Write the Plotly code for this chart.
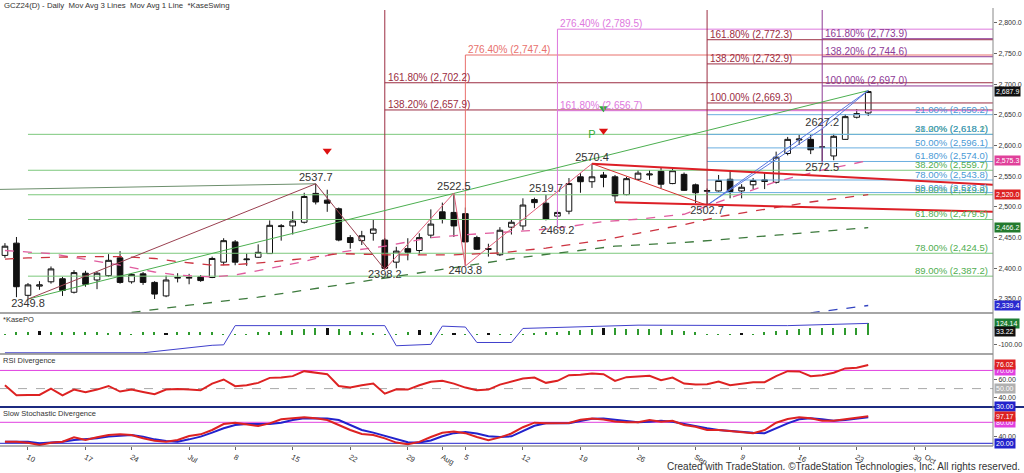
import plotly.graph_objects as go

# ---------------- data ----------------
idx = list(range(-2, 74))
o = [2421, 2441, 2356, 2371, 2378, 2383, 2361, 2392, 2381, 2388,
     2417, 2378, 2391, 2377, 2355, 2384, 2384, 2386, 2385, 2410,
     2443, 2414, 2418, 2424, 2468, 2469, 2475, 2522, 2511, 2497,
     2450, 2445, 2457, 2446, 2410, 2432, 2429, 2454, 2492, 2491,
     2489, 2450, 2432, 2422, 2467, 2469, 2512, 2506, 2485, 2493,
     2549, 2541, 2552, 2549, 2520, 2545, 2552, 2558, 2538, 2553,
     2536, 2525.5, 2526, 2545, 2526, 2536, 2544, 2540, 2587, 2609,
     2610, 2597, 2583, 2610, 2646, 2653]
h = [2441, 2451, 2376, 2379, 2403, 2386, 2397, 2396, 2394, 2423,
     2428, 2392, 2394, 2379, 2388, 2392, 2391, 2389, 2419, 2449,
     2446, 2424, 2439, 2478, 2472, 2493, 2523, 2537.7, 2528, 2499,
     2454, 2461, 2480, 2449, 2435, 2449, 2457, 2496, 2507, 2522.5,
     2499, 2453, 2440, 2467, 2479, 2514, 2515, 2519.7, 2495, 2547,
     2555, 2570.4, 2557, 2552, 2549, 2560, 2560, 2565, 2563, 2556,
     2538, 2530, 2552, 2560, 2537, 2547, 2556, 2590, 2614, 2618,
     2617, 2627.2, 2619, 2651, 2659, 2689.5]
l = [2417, 2353, 2349.8, 2365, 2375, 2355, 2359, 2370, 2366, 2386,
     2375, 2375, 2373, 2350, 2353, 2377, 2374, 2378, 2384, 2405,
     2405, 2404, 2417, 2424, 2445, 2455, 2473, 2504, 2492, 2444,
     2432, 2438, 2445, 2398.2, 2400, 2413, 2422, 2449, 2473, 2451,
     2403.8, 2430, 2419, 2420, 2455, 2462, 2498, 2478, 2469.2, 2488,
     2523, 2531, 2532, 2508, 2519, 2544, 2544, 2530, 2537, 2526,
     2506, 2502.7, 2525, 2514, 2514, 2529, 2529, 2538, 2584, 2601,
     2586, 2572.5, 2576, 2609, 2644, 2648]
c = [2436, 2370, 2373, 2373, 2399, 2364, 2393, 2374, 2392, 2413,
     2377, 2390, 2377, 2358, 2381, 2385, 2385, 2380, 2416, 2445,
     2410, 2415, 2426, 2470, 2469, 2477, 2517, 2508, 2506, 2446,
     2442, 2453, 2464, 2400, 2428, 2426, 2450, 2472, 2480, 2469,
     2443, 2431, 2431, 2462, 2475, 2503, 2507, 2480, 2491, 2538,
     2541, 2549, 2548, 2518, 2546, 2555, 2553.5, 2537, 2559, 2527,
     2523, 2526.5, 2543, 2525, 2532, 2543, 2541.5, 2581, 2610, 2610.5,
     2593, 2597.5, 2615, 2647, 2652, 2687.9]

tick_pos = [0, 5, 9, 14, 18, 23, 28, 33, 36, 38, 43, 48, 53, 58, 62, 67, 72, 77, 78]
tick_text = ["10", "17", "24", "Jul", "8", "15", "22", "29", "Aug", "5", "12", "19",
             "26", "Sep", "9", "16", "23", "30", "Oct"]

# fib retracement (green, from the 2349.8 low) and (blue, from the 2502.7 low)
green_anchor = 0
green_levels = [2618.2, 2559.7, 2519.8, 2479.5, 2424.5, 2387.2]
green_labels = ["21.00% (2,618.2)", "38.20% (2,559.7)", "50.00% (2,519.8)",
                "61.80% (2,479.5)", "78.00% (2,424.5)", "89.00% (2,387.2)"]
blue_anchor = 59
blue_levels = [2650.2, 2618.1, 2596.1, 2574.0, 2543.8, 2523.3]
blue_labels = ["21.00% (2,650.2)", "38.20% (2,618.1)", "50.00% (2,596.1)",
               "61.80% (2,574.0)", "78.00% (2,543.8)", "89.00% (2,523.3)"]

# fib extension sets: anchor bar, anchor low, levels, labels
ext1_anchor, ext1_low = 31, 2398.2
ext1_levels = [2702.2, 2657.9]
ext1_labels = ["161.80% (2,702.2)", "138.20% (2,657.9)"]
ext2_anchor, ext2_low = 38, 2403.8
ext2_levels = [2747.4]
ext2_labels = ["276.40% (2,747.4)"]
ext3_anchor, ext3_low = 46, 2469.2
ext3_levels = [2789.5, 2656.7]
ext3_labels = ["276.40% (2,789.5)", "161.80% (2,656.7)"]
ext4_anchor, ext4_low = 59, 2502.7
ext4_levels = [2772.3, 2732.9, 2669.3]
ext4_labels = ["161.80% (2,772.3)", "138.20% (2,732.9)", "100.00% (2,669.3)"]
ext5_anchor, ext5_low = 69, 2572.5
ext5_levels = [2773.9, 2744.6, 2697.0]
ext5_labels = ["161.80% (2,773.9)", "138.20% (2,744.6)", "100.00% (2,697.0)"]

# moving averages (read at selected bars)
pink_ma_i = [-2, 2, 8, 11, 13, 16, 18, 21, 24, 27, 31, 35, 39, 44, 47, 50, 53, 57, 61, 65, 69, 73]
pink_ma_v = [2429, 2424, 2405, 2394, 2389, 2386, 2389, 2400, 2411, 2426, 2436, 2450, 2456,
             2462, 2468, 2476, 2480, 2488, 2514, 2541, 2560, 2575.3]
red_ma_i = [-2, 0, 5, 8, 11, 13, 16, 18, 21, 24, 27, 31, 37, 41, 45, 50, 53, 57, 60, 64, 68, 73]
red_ma_v = [2415, 2417, 2419, 2419, 2416, 2411, 2405, 2406, 2410, 2416, 2424, 2422, 2422,
            2425, 2433, 2446, 2457, 2471, 2484, 2496, 2508, 2520.0]
green_ma_i = [9, 14, 20, 27, 35, 43, 51, 57, 65, 73]
green_ma_v = [2328, 2340, 2353, 2373, 2395, 2418, 2436, 2442, 2454, 2466.2]
blue_ma_i = [68, 73]
blue_ma_v = [2327.5, 2339.4]

# swings
swing_i = [0, 25, 31, 37, 38, 45, 46, 49, 59, 69, 69]
swing_v = [2349.8, 2537.7, 2398.2, 2522.5, 2403.8, 2519.7, 2469.2, 2570.4, 2502.7, 2627.2, 2572.5]
swing_pos = ["bottom center", "top center", "bottom center", "top center", "bottom center",
             "top center", "bottom center", "top center", "bottom center", "top center",
             "bottom center"]
zz1_i, zz1_v = [0, 25, 31], [2349.8, 2537.7, 2398.2]
zz2_i, zz2_v = [31, 37, 38, 49], [2398.2, 2522.5, 2403.8, 2570.4]
zz3_i, zz3_v = [49, 59], [2570.4, 2502.7]
leg1_i, leg1_v = [59, 73], [2502.7, 2689.5]
leg2_i, leg2_v = [59, 69, 73], [2502.7, 2627.2, 2689.5]
tri_up_i, tri_up_v = [49, 85], [2570.4, 2534.8]
tri_lo_i, tri_lo_v = [51, 85], [2507.4, 2491.6]
trend_g_i, trend_g_v = [0, 73], [2349.8, 2689.5]
trend_gg_i, trend_gg_v = [-3, 25], [2528.3, 2537.7]

sig_red_i, sig_red_v = [26, 50], [2591.5, 2624.0]
sig_green_i, sig_green_v = [50], [2660.6]
sig_p_i, sig_p_v = [49], [2617.0]

# KasePO
kase_hist = [10, 35, 35, 45, 35, 35, 35, 35, 35, 25,
             30, 10, 30, 30, 15, 30, 30, 30, 30, 10,
             10, 10, 30, 35, 45, 55, 60, 70, 80, 65,
             45, 30, 15, 10, 10, 35, 50, 30, 10, 15,
             10, 10, 15, 10, 10, 10, 20, 30, 30, 40,
             50, 60, 80, 70, 65, 60, 60, 60, 55, 45,
             30, 10, 10, 10, 15, 10, 30, 40, 50, 65,
             70, 70, 70, 70, 75, 130]
kase_black = [1, 12, 26, 34, 37, 40, 50, 62]
kase_line_i = [-2, 10, 16, 17, 18, 31, 32, 35, 36, 38, 39, 42, 43, 53, 66, 73]
kase_line_v = [-190, -190, -110, -105, 100, 100, -115, -100, 95, 85, -80, -80, 70, 105, 100, 124.14]

rsi = [53.7, 42.6, 43, 43, 50, 42.6, 48.9, 45.9, 48.9, 52.9,
       46.7, 48.9, 46.3, 43.7, 48.9, 49.6, 48.9, 48.1, 55.5, 60,
       52.6, 53.7, 56.3, 61.8, 62.2, 63.7, 69.2, 67.8, 65.9, 52.9,
       51.1, 53.7, 55.5, 44.4, 49.3, 48.9, 53.7, 57.4, 58.5, 55.5,
       51.1, 48.1, 48.9, 54.4, 57.4, 61.1, 62.2, 56.3, 58.5, 64.8,
       65.2, 66.7, 65.9, 58.5, 62.6, 63.7, 64.1, 59.2, 62.2, 55.5,
       54.4, 54.8, 57.8, 53.7, 55.5, 57, 57, 63.7, 69.2, 68.9,
       63.7, 64.8, 67.4, 72.2, 73, 76.02]
stoch_k = [24.6, 24.6, 21.7, 15, 21.7, 24.6, 37, 29.4, 37, 43.7,
           45.6, 43.7, 34.3, 27.6, 24.6, 29.4, 40.9, 45.6, 58, 75.1,
           78.9, 75.1, 69.4, 77, 88.6, 91.4, 94.3, 91.4, 86.6, 72.3,
           58, 46.6, 43.7, 34, 22, 17, 24, 38, 50, 54,
           49, 38, 29, 37, 48, 66, 79, 77, 77, 78,
           87, 91, 88, 82, 80, 80, 86.6, 81.7, 84.6, 72.3,
           67.4, 58, 58, 55.1, 50.3, 48.6, 58, 78.9, 89.4, 94.3,
           91.4, 84.6, 84.6, 89.4, 94.3, 97.17]
stoch_d = [24.6, 24.6, 24.6, 20, 21.7, 24.6, 29.4, 31.3, 34.3, 39.1,
           42, 43.7, 39.1, 31.3, 26.6, 24.6, 31.3, 39.1, 50.5, 62.8,
           72.3, 75.1, 75.1, 75.1, 78.9, 86.6, 91.4, 91.4, 90.5, 86.6,
           72.3, 58, 50.5, 40.9, 31, 23, 22, 28, 40, 49,
           52, 48, 40, 38, 40, 55, 70, 77, 77, 77,
           84, 90, 91, 88, 83, 80, 81.7, 84.6, 81.7, 75.1,
           69.4, 62.9, 58, 55.1, 53.1, 50.3, 48.6, 62.9, 77, 88.6,
           91.4, 88.6, 84.6, 86.6, 91.4, 94.3]

# ---------------- layout constants ----------------
W, H = 1024, 473
FONT = "Liberation Sans, Arial, sans-serif"
X_MIN, X_MAX = -2.43, 83.84
P_MIN, P_MAX = 2327.2, 2820.7
XR = 993 / W
NB = "\u00a0"


def fy(px):
    return 1 - px / H


DARKRED = "#9b2d42"
SALMON = "#e8706c"
PINK = "#de78de"
PURPLE = "#8e3a96"
GREEN_LINE = "#7cc87c"
GREEN_TXT = "#4fae4f"
BLUE_LINE = "#6aaee0"
BLUE_TXT = "#4a9ad6"

fig = go.Figure()


def line(xs, ys, color, width=1, dash=None, axis="y"):
    fig.add_trace(go.Scatter(x=xs, y=ys, mode="lines", yaxis=axis,
                             line=dict(color=color, width=width, dash=dash),
                             hoverinfo="skip", showlegend=False))


# horizontal retracements
for lv, lab in zip(green_levels, green_labels):
    line([green_anchor, X_MAX], [lv, lv], GREEN_LINE)
    fig.add_annotation(x=X_MAX, y=lv, xref="x", yref="y", text=lab, showarrow=False,
                       xanchor="right", yanchor="bottom", xshift=-3, yshift=-2,
                       font=dict(family=FONT, size=9.5, color=GREEN_TXT))
for lv, lab in zip(blue_levels, blue_labels):
    line([blue_anchor, X_MAX], [lv, lv], BLUE_LINE)
    fig.add_annotation(x=X_MAX, y=lv, xref="x", yref="y", text=lab, showarrow=False,
                       xanchor="right", yanchor="bottom", xshift=-3, yshift=-2,
                       font=dict(family=FONT, size=9.5, color=BLUE_TXT))

# extensions with vertical anchors
ext_sets = [
    (ext1_anchor, ext1_low, P_MAX, ext1_levels, ext1_labels, DARKRED),
    (ext2_anchor, ext2_low, max(ext2_levels), ext2_levels, ext2_labels, SALMON),
    (ext3_anchor, ext3_low, max(ext3_levels), ext3_levels, ext3_labels, PINK),
    (ext4_anchor, ext4_low, P_MAX, ext4_levels, ext4_labels, DARKRED),
    (ext5_anchor, ext5_low, P_MAX, ext5_levels, ext5_labels, PURPLE),
]
for anc, low, top, levels, labels, col in ext_sets:
    line([anc, anc], [low, top], col)
    for lv, lab in zip(levels, labels):
        line([anc, X_MAX], [lv, lv], col)
        fig.add_annotation(x=anc, y=lv, xref="x", yref="y", text=lab, showarrow=False,
                           xanchor="left", yanchor="bottom", xshift=1, yshift=-2,
                           font=dict(family=FONT, size=10, color=col))

# moving averages
line(pink_ma_i, pink_ma_v, "#e05c9e", 1.3, "dash")
line(red_ma_i, red_ma_v, "#cc3340", 1.3, "dash")
line(green_ma_i, green_ma_v, "#3d7a3d", 1.3, "dash")
line(blue_ma_i, blue_ma_v, "#3344c0", 1.3, "dash")

# trend lines behind candles
line(trend_gg_i, trend_gg_v, "#6d8f6d", 1)
line(trend_g_i, trend_g_v, "#4caf50", 1)

# candles
fig.add_trace(go.Candlestick(
    x=idx, open=o, high=h, low=l, close=c, yaxis="y",
    increasing=dict(line=dict(color="#111111", width=1), fillcolor="white"),
    decreasing=dict(line=dict(color="#111111", width=1), fillcolor="#111111"),
    whiskerwidth=0, hoverinfo="skip", showlegend=False))

# swing zigzags and triangle lines
line(zz1_i, zz1_v, "#9a4050", 1)
line(zz2_i, zz2_v, "#e0607a", 1)
line(zz3_i, zz3_v, "#d43030", 1)
line(leg1_i, leg1_v, "#5a78e0", 1)
line(leg2_i, leg2_v, "#5a78e0", 1)
line(tri_up_i, tri_up_v, "#dd1f26", 2)
line(tri_lo_i, tri_lo_v, "#dd1f26", 2)

# swing labels
fig.add_trace(go.Scatter(x=swing_i, y=swing_v, mode="text",
                         text=[f"{v:.1f}" for v in swing_v], textposition=swing_pos,
                         textfont=dict(family=FONT, size=11, color="#333333"),
                         hoverinfo="skip", showlegend=False))

# signals
fig.add_trace(go.Scatter(x=sig_red_i, y=sig_red_v, mode="markers",
                         marker=dict(symbol="triangle-down", size=8, color="#dd1111"),
                         hoverinfo="skip", showlegend=False))
fig.add_trace(go.Scatter(x=sig_green_i, y=sig_green_v, mode="markers",
                         marker=dict(symbol="triangle-down", size=8, color="#33aa33"),
                         hoverinfo="skip", showlegend=False))
fig.add_trace(go.Scatter(x=sig_p_i, y=sig_p_v, mode="text", text=["P"],
                         textfont=dict(family=FONT, size=11, color="#33aa33"),
                         hoverinfo="skip", showlegend=False))

# KasePO panel
kcolors = ["#111111" if i in kase_black else "#2e9a2e" for i in idx]
kwidth = [0.3 if i in kase_black else 0.13 for i in idx]
fig.add_trace(go.Bar(x=idx, y=kase_hist, yaxis="y2", marker=dict(color=kcolors, line=dict(width=0)),
                     width=kwidth, hoverinfo="skip", showlegend=False))
line(kase_line_i, kase_line_v, "#4040cc", 1, axis="y2")

# RSI panel
line(idx, rsi, "#dd2222", 2, axis="y3")
# Stochastic panel
line(idx, stoch_d, "#2222cc", 2, axis="y4")
line(idx, stoch_k, "#dd2222", 2, axis="y4")

# reference lines in lower panels
ref_lines = [("y3", 70, "#e040e0", 1, "solid"), ("y3", 50, "#aaaaaa", 1, "dash"),
             ("y4", 80, "#e040e0", 1, "solid"), ("y4", 20, "#2222cc", 1, "solid")]
for ax, v, col, wd, ds in ref_lines:
    fig.add_shape(type="line", xref="paper", yref=ax, x0=0, x1=XR, y0=v, y1=v,
                  line=dict(color=col, width=wd, dash=ds), layer="below")

# separators
for ypx, col, wd, x1 in [(313, "#888888", 1.5, XR), (354, "#888888", 1.5, XR),
                          (407, "#1c2a80", 2, 1.0), (446, "#666666", 1, XR)]:
    fig.add_shape(type="line", xref="paper", yref="paper", x0=0, x1=x1,
                  y0=fy(ypx), y1=fy(ypx), line=dict(color=col, width=wd))
fig.add_shape(type="line", xref="paper", yref="paper", x0=XR, x1=XR, y0=fy(446), y1=fy(8),
              line=dict(color="#888888", width=1))

# right-hand value boxes
boxes = [
    ("y", 2687.9, "2,687.9", "#111111"), ("y", 2575.3, "2,575.3", "#e0409a"),
    ("y", 2520.0, "2,520.0", "#dd2222"), ("y", 2466.2, "2,466.2", "#237a2d"),
    ("y", 2339.4, "2,339.4", "#2a2ad0"),
    ("y2", 124.14, "124.14", "#1e7e34"), ("y2", 33.22, "33.22", "#111111"),
    ("y3", 70, "70.00", "#e040e0"), ("y3", 76.02, "76.02", "#dd2222"),
    ("y3", 50, "50.00", "#b0b0b0"), ("y3", 30, "30.00", "#2222cc"),
    ("y4", 80, "80.00", "#e040e0"), ("y4", 97.17, "97.17", "#dd2222"),
    ("y4", 20, "20.00", "#2222cc"),
]
for ax, v, txt, col in boxes:
    fig.add_annotation(x=XR, y=v, xref="paper", yref=ax, text=txt, showarrow=False,
                       xanchor="left", yanchor="middle", xshift=1, bgcolor=col,
                       borderpad=1, font=dict(family=FONT, size=7, color="white"))

# titles
chart_title = f"GCZ24(D) - Daily {NB}Mov Avg 3 Lines {NB}Mov Avg 1 Line {NB}*KaseSwing"
for ttl, xp, ypx, sz in [(chart_title, 2, 5, 7.8),
                         ("*KasePO", 1, 319, 7.5), ("RSI Divergence", 1, 360, 7.5),
                         ("Slow Stochastic Divergence", 1, 413, 7.5)]:
    fig.add_annotation(x=xp / W, y=fy(ypx), xref="paper", yref="paper", text=ttl,
                       showarrow=False, xanchor="left", yanchor="middle",
                       font=dict(family=FONT, size=sz, color="#333333"))
fig.add_annotation(x=1022 / W, y=fy(466), xref="paper", yref="paper",
                   text="Created with TradeStation. ©TradeStation Technologies, Inc. All rights reserved.",
                   showarrow=False, xanchor="right", yanchor="middle",
                   font=dict(family=FONT, size=10, color="#333333"))

yax_common = dict(side="right", anchor="x", showgrid=False, zeroline=False, ticks="outside",
                  ticklen=3, tickcolor="#666666", showline=False, automargin=False,
                  tickfont=dict(family=FONT, size=7, color="#333333"), fixedrange=True)

fig.update_layout(
    width=W, height=H, autosize=False,
    margin=dict(l=0, r=0, t=0, b=0),
    paper_bgcolor="white", plot_bgcolor="white",
    showlegend=False, hovermode=False, bargap=0,
    xaxis=dict(domain=[0, XR], range=[X_MIN, X_MAX], anchor="y4", showgrid=False,
               zeroline=False, tickvals=tick_pos, ticktext=tick_text, ticks="outside",
               ticklen=3, tickcolor="#666666", showline=False, automargin=False,
               tickfont=dict(family=FONT, size=7.5, color="#333333"),
               rangeslider=dict(visible=False), fixedrange=True),
    yaxis=dict(domain=[fy(313), fy(10)], range=[P_MIN, P_MAX], tick0=2350, dtick=50,
               tickformat=",.1f", **yax_common),
    yaxis2=dict(domain=[fy(354), fy(313)], range=[-203, 235], tickvals=[-100],
                ticktext=["-100.00"], **yax_common),
    yaxis3=dict(domain=[fy(407), fy(354)], range=[29.7, 88.1], tickvals=[40, 60],
                ticktext=["40.00", "60.00"], **yax_common),
    yaxis4=dict(domain=[fy(446), fy(407)], range=[12.3, 123.7], tickvals=[40],
                ticktext=["40.00"], **yax_common),
)

fig.write_html("out.html", config={"displayModeBar": False},
               post_script="document.body.style.margin='0';document.body.style.overflow='hidden';")
